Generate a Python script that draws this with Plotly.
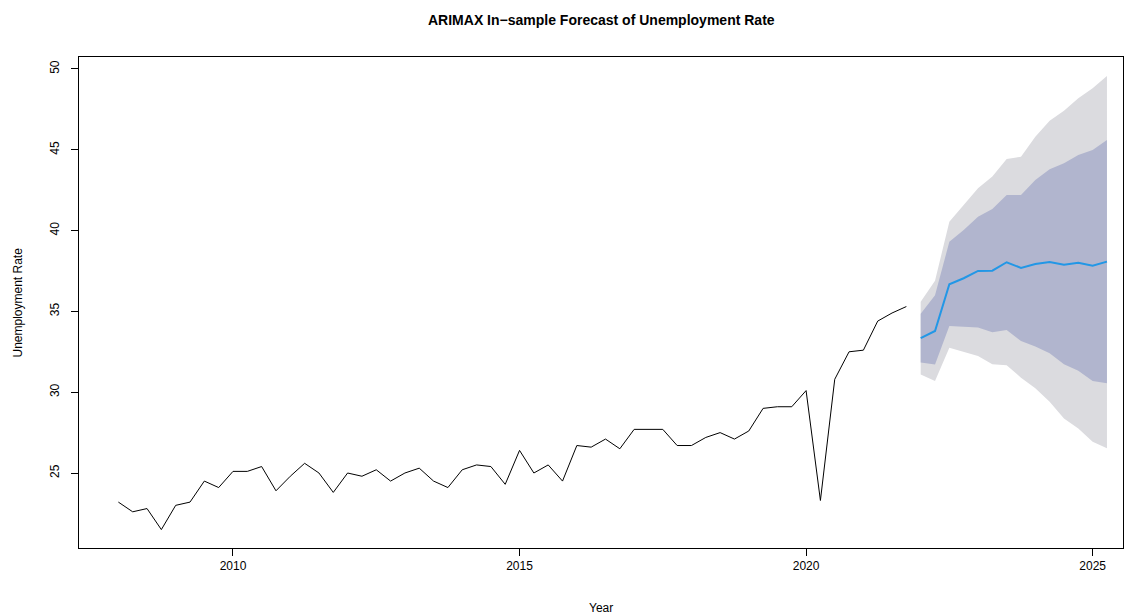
import plotly.graph_objects as go

# Historical quarterly series (2008 Q1 .. 2021 Q4)
hist_start = 2008.0
hist_values = [
    23.2, 22.6, 22.8, 21.5, 23.0, 23.2, 24.5, 24.1,
    25.1, 25.1, 25.4, 23.9, 24.8, 25.6, 25.0, 23.8,
    25.0, 24.8, 25.2, 24.5, 25.0, 25.3, 24.5, 24.1,
    25.2, 25.5, 25.4, 24.3, 26.4, 25.0, 25.5, 24.5,
    26.7, 26.6, 27.1, 26.5, 27.7, 27.7, 27.7, 26.7,
    26.7, 27.2, 27.5, 27.1, 27.6, 29.0, 29.1, 29.1,
    30.1, 23.3, 30.8, 32.5, 32.6, 34.4, 34.9, 35.3,
]

# Forecast (2022 Q1 .. 2025 Q2)
fc_start = 2022.0
fc_mean = [33.34, 33.79, 36.68, 37.05, 37.50, 37.52, 38.04,
           37.69, 37.93, 38.06, 37.89, 38.01, 37.83, 38.08]
lo80 = [31.83, 31.72, 34.10, 34.05, 34.01, 33.71, 33.85,
        33.17, 32.82, 32.41, 31.73, 31.33, 30.69, 30.55]
hi80 = [34.85, 36.00, 39.31, 40.04, 40.86, 41.34, 42.20,
        42.20, 43.13, 43.79, 44.16, 44.68, 44.99, 45.61]
lo95 = [31.10, 30.69, 32.75, 32.51, 32.24, 31.73, 31.67,
        30.90, 30.24, 29.41, 28.38, 27.76, 26.94, 26.53]
hi95 = [35.60, 36.90, 40.55, 41.58, 42.62, 43.34, 44.43,
        44.57, 45.81, 46.80, 47.42, 48.19, 48.81, 49.57]

x_ticks = [2010, 2015, 2020, 2025]
y_ticks = [25, 30, 35, 40, 45, 50]

hist_x = [hist_start + i * 0.25 for i in range(len(hist_values))]
fc_x = [fc_start + i * 0.25 for i in range(len(fc_mean))]

fig = go.Figure()

fig.add_trace(go.Scatter(
    x=fc_x + fc_x[::-1], y=hi95 + lo95[::-1], fill="toself",
    fillcolor="#DBDBDF", line=dict(width=0), mode="lines",
    hoverinfo="skip", showlegend=False))
fig.add_trace(go.Scatter(
    x=fc_x + fc_x[::-1], y=hi80 + lo80[::-1], fill="toself",
    fillcolor="#B1B5CE", line=dict(width=0), mode="lines",
    hoverinfo="skip", showlegend=False))
fig.add_trace(go.Scatter(
    x=hist_x, y=hist_values, mode="lines",
    line=dict(color="black", width=1), showlegend=False))
fig.add_trace(go.Scatter(
    x=fc_x, y=fc_mean, mode="lines",
    line=dict(color="#2297E6", width=2), showlegend=False))

font = dict(family="Liberation Sans, Arial, sans-serif", size=12, color="black")

fig.update_layout(
    width=1139, height=616,
    margin=dict(l=79, r=16, t=57, b=68),
    paper_bgcolor="white", plot_bgcolor="white",
    font=font,
    showlegend=False,
    xaxis=dict(
        range=[2007.313, 2025.53], tickvals=x_ticks,
        ticktext=[str(v) for v in x_ticks],
        showgrid=False, zeroline=False,
        showline=True, linecolor="black", linewidth=1, mirror=True,
        ticks="outside", ticklen=7, tickcolor="black", tickwidth=1,
        tickfont=font,
    ),
    yaxis=dict(
        range=[20.36, 50.74], tickvals=y_ticks,
        ticktext=[str(v) for v in y_ticks],
        showgrid=False, zeroline=False,
        showline=True, linecolor="black", linewidth=1, mirror=True,
        ticks="outside", ticklen=7, tickcolor="black", tickwidth=1,
        tickangle=-90, tickfont=font, ticklabelstandoff=7,
    ),
    annotations=[
        dict(text="<b>ARIMAX In\u2212sample Forecast of Unemployment Rate</b>",
             xref="paper", yref="paper", x=0.5, y=1, yshift=37,
             xanchor="center", yanchor="middle", showarrow=False,
             font=dict(family="Liberation Sans, Arial, sans-serif", size=14, color="black")),
        dict(text="Year", xref="paper", yref="paper", x=0.5, y=0,
             yshift=-60, xanchor="center", yanchor="middle", showarrow=False,
             font=font),
        dict(text="Unemployment Rate", xref="paper", yref="paper", x=0, y=0.5,
             xshift=-62, xanchor="center", yanchor="middle", showarrow=False,
             textangle=-90, font=font),
    ],
)

fig.write_html("out.html")
